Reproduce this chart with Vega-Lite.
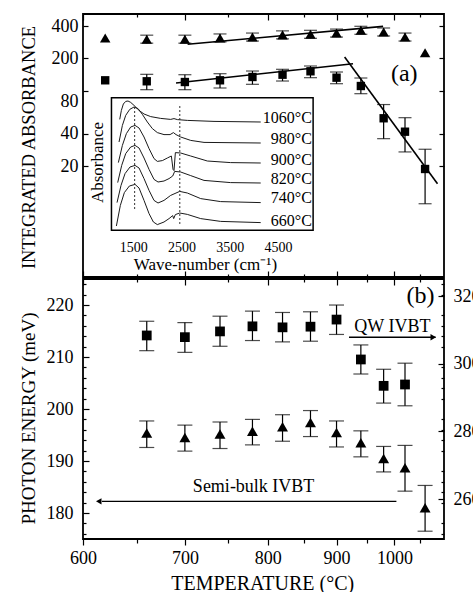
{
"$schema": "https://vega.github.io/schema/vega-lite/v6.json",
"background": "white",
"padding": {"left": 18, "top": 12, "right": 0, "bottom": 0},
"spacing": -11,
"config": {
 "view": {"stroke": "black", "strokeWidth": 1.8},
 "axis": {"domain": false, "grid": false, "labelFont": "Liberation Serif", "labelFontSize": 18, "labelColor": "black", "titleFont": "Liberation Serif", "titleFontSize": 19, "titleFontWeight": "normal", "titleColor": "black", "tickColor": "black", "tickWidth": 1.2, "labelFlush": false, "labelOverlap": false},
 "text": {"font": "Liberation Serif", "color": "black"}
},
"datasets": {
 "a_tri": [
  {"T":620,"TK":893,"v":310},
  {"T":660,"TK":933,"v":302,"lo":277.3,"hi":328.9},
  {"T":700,"TK":973,"v":302,"lo":277.3,"hi":328.9},
  {"T":740,"TK":1013,"v":310,"lo":284.7,"hi":337.6},
  {"T":780,"TK":1053,"v":316,"lo":290.2,"hi":344.1},
  {"T":820,"TK":1093,"v":331,"lo":304.0,"hi":360.5},
  {"T":860,"TK":1133,"v":335,"lo":307.6,"hi":364.8},
  {"T":900,"TK":1173,"v":344,"lo":315.9,"hi":374.6},
  {"T":940,"TK":1213,"v":365,"lo":335.2,"hi":397.5},
  {"T":980,"TK":1253,"v":352,"lo":323.2,"hi":383.3},
  {"T":1020,"TK":1293,"v":316,"lo":290.2,"hi":344.1},
  {"T":1060,"TK":1333,"v":226}
 ],
 "a_sq": [
  {"T":620,"TK":893,"v":125.5},
  {"T":660,"TK":933,"v":122.9,"lo":102.7,"hi":142.6},
  {"T":700,"TK":973,"v":121.0,"lo":102.7,"hi":141.4},
  {"T":740,"TK":1013,"v":125.5,"lo":106.5,"hi":144.5},
  {"T":780,"TK":1053,"v":134.7,"lo":115.2,"hi":153.0},
  {"T":820,"TK":1093,"v":141.4,"lo":123.6,"hi":158.7},
  {"T":860,"TK":1133,"v":152.1,"lo":132.7,"hi":170.3},
  {"T":900,"TK":1173,"v":132.7,"lo":116.7,"hi":149.8},
  {"T":940,"TK":1213,"v":111.1,"lo":94.3,"hi":131.8},
  {"T":980,"TK":1253,"v":55.8,"lo":36.1,"hi":74.8},
  {"T":1020,"TK":1293,"v":41.9,"lo":27.2,"hi":56.5},
  {"T":1060,"TK":1333,"v":18.9,"lo":9.0,"hi":28.8}
 ],
 "a_fit": [
  {"fit":"tri","TK":976,"v":270.6},{"fit":"tri","TK":1252,"v":397},
  {"fit":"sq1","TK":963.4,"v":118.5},{"fit":"sq1","TK":1199.8,"v":178.9},
  {"fit":"sq2","TK":1186,"v":206.4},{"fit":"sq2","TK":1359,"v":13.8}
 ],
 "b_tri": [
  {"T":660,"TK":933,"v":195.4,"lo":192.6,"hi":197.7},
  {"T":700,"TK":973,"v":194.5,"lo":191.9,"hi":196.9},
  {"T":740,"TK":1013,"v":195.2,"lo":192.4,"hi":197.5},
  {"T":780,"TK":1053,"v":195.7,"lo":193.1,"hi":198.0},
  {"T":820,"TK":1093,"v":196.6,"lo":193.8,"hi":198.9},
  {"T":860,"TK":1133,"v":197.4,"lo":194.7,"hi":199.7},
  {"T":900,"TK":1173,"v":195.5,"lo":192.7,"hi":197.7},
  {"T":940,"TK":1213,"v":193.5,"lo":190.8,"hi":195.8},
  {"T":980,"TK":1253,"v":190.5,"lo":187.9,"hi":192.8},
  {"T":1020,"TK":1293,"v":188.7,"lo":184.2,"hi":193.0},
  {"T":1060,"TK":1333,"v":181.0,"lo":176.5,"hi":185.3}
 ],
 "b_sq": [
  {"T":660,"TK":933,"v":308.4,"lo":303.9,"hi":312.6},
  {"T":700,"TK":973,"v":307.9,"lo":303.4,"hi":312.2},
  {"T":740,"TK":1013,"v":309.6,"lo":305.2,"hi":314.1},
  {"T":780,"TK":1053,"v":311.1,"lo":306.9,"hi":315.6},
  {"T":820,"TK":1093,"v":310.8,"lo":306.5,"hi":315.2},
  {"T":860,"TK":1133,"v":311.0,"lo":306.7,"hi":315.4},
  {"T":900,"TK":1173,"v":313.1,"lo":308.7,"hi":317.4},
  {"T":940,"TK":1213,"v":301.3,"lo":297.0,"hi":305.6},
  {"T":980,"TK":1253,"v":293.5,"lo":288.4,"hi":298.4},
  {"T":1020,"TK":1293,"v":293.9,"lo":287.6,"hi":300.2}
 ],
 "spectra": [
  {"s":"1060°C","wn":1221,"a":6.13},{"s":"1060°C","wn":1255,"a":6.58},{"s":"1060°C","wn":1296,"a":6.9},{"s":"1060°C","wn":1345,"a":7.03},{"s":"1060°C","wn":1393,"a":7.05},{"s":"1060°C","wn":1448,"a":6.98},{"s":"1060°C","wn":1517,"a":6.83},{"s":"1060°C","wn":1621,"a":6.58},{"s":"1060°C","wn":1724,"a":6.4},{"s":"1060°C","wn":1862,"a":6.27},{"s":"1060°C","wn":2069,"a":6.18},{"s":"1060°C","wn":2276,"a":6.13},{"s":"1060°C","wn":2345,"a":6.17},{"s":"1060°C","wn":2414,"a":6.12},{"s":"1060°C","wn":2621,"a":6.08},{"s":"1060°C","wn":3173,"a":6.03},{"s":"1060°C","wn":4140,"a":6.0},
  {"s":"980°C","wn":1207,"a":5.0},{"s":"980°C","wn":1276,"a":5.83},{"s":"980°C","wn":1345,"a":6.33},{"s":"980°C","wn":1428,"a":6.63},{"s":"980°C","wn":1517,"a":6.75},{"s":"980°C","wn":1600,"a":6.67},{"s":"980°C","wn":1690,"a":6.38},{"s":"980°C","wn":1793,"a":6.0},{"s":"980°C","wn":1897,"a":5.67},{"s":"980°C","wn":2000,"a":5.47},{"s":"980°C","wn":2138,"a":5.37},{"s":"980°C","wn":2263,"a":5.37},{"s":"980°C","wn":2332,"a":5.47},{"s":"980°C","wn":2387,"a":5.37},{"s":"980°C","wn":2483,"a":5.25},{"s":"980°C","wn":2690,"a":5.08},{"s":"980°C","wn":2966,"a":4.98},{"s":"980°C","wn":4140,"a":4.95},
  {"s":"900°C","wn":1193,"a":3.97},{"s":"900°C","wn":1276,"a":4.83},{"s":"900°C","wn":1359,"a":5.42},{"s":"900°C","wn":1448,"a":5.75},{"s":"900°C","wn":1538,"a":5.83},{"s":"900°C","wn":1621,"a":5.7},{"s":"900°C","wn":1724,"a":5.25},{"s":"900°C","wn":1828,"a":4.67},{"s":"900°C","wn":1931,"a":4.17},{"s":"900°C","wn":2000,"a":4.03},{"s":"900°C","wn":2104,"a":4.07},{"s":"900°C","wn":2207,"a":4.2},{"s":"900°C","wn":2290,"a":4.3},{"s":"900°C","wn":2325,"a":3.63},{"s":"900°C","wn":2345,"a":3.57},{"s":"900°C","wn":2373,"a":4.47},{"s":"900°C","wn":2483,"a":4.45},{"s":"900°C","wn":2690,"a":4.3},{"s":"900°C","wn":3035,"a":4.05},{"s":"900°C","wn":3518,"a":3.97},{"s":"900°C","wn":4140,"a":3.95},
  {"s":"820°C","wn":1179,"a":2.97},{"s":"820°C","wn":1262,"a":3.83},{"s":"820°C","wn":1345,"a":4.42},{"s":"820°C","wn":1448,"a":4.75},{"s":"820°C","wn":1538,"a":4.83},{"s":"820°C","wn":1621,"a":4.7},{"s":"820°C","wn":1724,"a":4.2},{"s":"820°C","wn":1828,"a":3.63},{"s":"820°C","wn":1931,"a":3.13},{"s":"820°C","wn":2014,"a":3.0},{"s":"820°C","wn":2138,"a":3.05},{"s":"820°C","wn":2242,"a":3.17},{"s":"820°C","wn":2318,"a":3.3},{"s":"820°C","wn":2359,"a":3.53},{"s":"820°C","wn":2483,"a":3.5},{"s":"820°C","wn":2690,"a":3.32},{"s":"820°C","wn":2966,"a":3.08},{"s":"820°C","wn":3518,"a":2.97},{"s":"820°C","wn":4140,"a":2.95},
  {"s":"740°C","wn":1165,"a":1.97},{"s":"740°C","wn":1248,"a":2.83},{"s":"740°C","wn":1331,"a":3.42},{"s":"740°C","wn":1434,"a":3.75},{"s":"740°C","wn":1538,"a":3.83},{"s":"740°C","wn":1621,"a":3.7},{"s":"740°C","wn":1724,"a":3.17},{"s":"740°C","wn":1828,"a":2.58},{"s":"740°C","wn":1931,"a":2.08},{"s":"740°C","wn":2014,"a":1.95},{"s":"740°C","wn":2138,"a":2.08},{"s":"740°C","wn":2276,"a":2.33},{"s":"740°C","wn":2463,"a":2.53},{"s":"740°C","wn":2621,"a":2.45},{"s":"740°C","wn":2897,"a":2.17},{"s":"740°C","wn":3311,"a":2.02},{"s":"740°C","wn":4140,"a":1.97},
  {"s":"660°C","wn":1152,"a":0.8},{"s":"660°C","wn":1234,"a":1.83},{"s":"660°C","wn":1317,"a":2.47},{"s":"660°C","wn":1421,"a":2.8},{"s":"660°C","wn":1538,"a":2.88},{"s":"660°C","wn":1621,"a":2.7},{"s":"660°C","wn":1724,"a":2.08},{"s":"660°C","wn":1828,"a":1.42},{"s":"660°C","wn":1918,"a":1.0},{"s":"660°C","wn":2000,"a":0.87},{"s":"660°C","wn":2138,"a":1.0},{"s":"660°C","wn":2242,"a":1.17},{"s":"660°C","wn":2318,"a":1.32},{"s":"660°C","wn":2338,"a":1.17},{"s":"660°C","wn":2373,"a":1.37},{"s":"660°C","wn":2463,"a":1.45},{"s":"660°C","wn":2621,"a":1.38},{"s":"660°C","wn":2897,"a":1.17},{"s":"660°C","wn":3311,"a":1.03},{"s":"660°C","wn":4140,"a":0.97}
 ],
 "spec_labels": [
  {"s":"1060°C","wn":5200,"a":6.22},{"s":"980°C","wn":5200,"a":5.17},{"s":"900°C","wn":5200,"a":4.12},
  {"s":"820°C","wn":5200,"a":3.16},{"s":"740°C","wn":5200,"a":2.2},{"s":"660°C","wn":5200,"a":1.06}
 ]
},
"vconcat": [
 {
  "width": 361, "height": 263,
  "resolve": {"scale": {"x": "independent", "y": "independent"}},
  "layer": [
   {
    "data": {"name": "a_tri"},
    "transform": [{"filter": "isValid(datum.lo)"}],
    "mark": {"type": "rule", "strokeWidth": 1.2, "color": "black"},
    "encoding": {
     "x": {"field": "TK", "type": "quantitative", "scale": {"type": "pow", "exponent": -1, "domain": [873, 1373], "nice": false, "zero": false},
       "axis": {"orient": "bottom", "values": [873, 973, 1073, 1173, 1273], "labels": false, "tickSize": -6, "title": null}},
     "y": {"field": "lo", "type": "quantitative", "scale": {"type": "log", "domain": [1.884, 516.8], "nice": false},
       "axis": {"orient": "left", "values": [400, 200, 80, 40, 20], "ticks": false, "labelPadding": 5, "title": "INTEGRATED ABSORBANCE", "titleFontSize": 18.5, "titleX": -54.3, "titleY": 133, "titleAngle": 270, "titleBaseline": "middle", "titleAlign": "center"}},
     "y2": {"field": "hi"}
    }
   },
   {
    "data": {"name": "a_tri"},
    "transform": [{"filter": "isValid(datum.lo)"}],
    "mark": {"type": "tick", "orient": "horizontal", "size": 13, "thickness": 1.2, "color": "black"},
    "encoding": {
     "x": {"field": "TK", "type": "quantitative", "scale": {"type": "pow", "exponent": -1, "domain": [873, 1373], "nice": false, "zero": false},
       "axis": {"orient": "bottom", "values": [923, 1023, 1123, 1223, 1323], "labels": false, "tickSize": -3, "title": null}},
     "y": {"field": "lo", "type": "quantitative", "scale": {"type": "log", "domain": [1.884, 516.8], "nice": false},
       "axis": {"orient": "left", "values": [400, 200, 100, 40, 20], "labels": false, "tickSize": -5, "title": null}}
    }
   },
   {
    "data": {"name": "a_tri"},
    "transform": [{"filter": "isValid(datum.hi)"}],
    "mark": {"type": "tick", "orient": "horizontal", "size": 13, "thickness": 1.2, "color": "black"},
    "encoding": {
     "x": {"field": "TK", "type": "quantitative", "scale": {"type": "pow", "exponent": -1, "domain": [873, 1373], "nice": false, "zero": false},
       "axis": {"orient": "top", "values": [873, 973, 1073, 1173, 1273], "labels": false, "tickSize": -6, "title": null}},
     "y": {"field": "hi", "type": "quantitative", "scale": {"type": "log", "domain": [1.884, 516.8], "nice": false},
       "axis": {"orient": "right", "values": [400, 200, 100, 40, 20], "labels": false, "tickSize": -5, "title": null}}
    }
   },
   {
    "data": {"name": "a_tri"},
    "mark": {"type": "point", "shape": "triangle-up", "filled": true, "size": 110, "color": "black", "opacity": 1},
    "encoding": {
     "x": {"field": "TK", "type": "quantitative", "scale": {"type": "pow", "exponent": -1, "domain": [873, 1373], "nice": false, "zero": false},
       "axis": {"orient": "top", "values": [923, 1023, 1123, 1223, 1323], "labels": false, "tickSize": -3, "title": null}},
     "y": {"field": "v", "type": "quantitative", "scale": {"type": "log", "domain": [1.884, 516.8], "nice": false}, "axis": null}
    }
   },
   {
    "data": {"name": "a_sq"},
    "transform": [{"filter": "isValid(datum.lo)"}],
    "mark": {"type": "rule", "strokeWidth": 1.2, "color": "black"},
    "encoding": {
     "x": {"field": "TK", "type": "quantitative", "scale": {"type": "pow", "exponent": -1, "domain": [873, 1373], "nice": false, "zero": false}, "axis": null},
     "y": {"field": "lo", "type": "quantitative", "scale": {"type": "log", "domain": [1.884, 516.8], "nice": false}, "axis": null},
     "y2": {"field": "hi"}
    }
   },
   {
    "data": {"name": "a_sq"},
    "transform": [{"filter": "isValid(datum.lo)"}],
    "mark": {"type": "tick", "orient": "horizontal", "size": 13, "thickness": 1.2, "color": "black"},
    "encoding": {
     "x": {"field": "TK", "type": "quantitative", "scale": {"type": "pow", "exponent": -1, "domain": [873, 1373], "nice": false, "zero": false}, "axis": null},
     "y": {"field": "lo", "type": "quantitative", "scale": {"type": "log", "domain": [1.884, 516.8], "nice": false}, "axis": null}
    }
   },
   {
    "data": {"name": "a_sq"},
    "transform": [{"filter": "isValid(datum.hi)"}],
    "mark": {"type": "tick", "orient": "horizontal", "size": 13, "thickness": 1.2, "color": "black"},
    "encoding": {
     "x": {"field": "TK", "type": "quantitative", "scale": {"type": "pow", "exponent": -1, "domain": [873, 1373], "nice": false, "zero": false}, "axis": null},
     "y": {"field": "hi", "type": "quantitative", "scale": {"type": "log", "domain": [1.884, 516.8], "nice": false}, "axis": null}
    }
   },
   {
    "data": {"name": "a_sq"},
    "mark": {"type": "point", "shape": "square", "filled": true, "size": 70, "color": "black", "opacity": 1},
    "encoding": {
     "x": {"field": "TK", "type": "quantitative", "scale": {"type": "pow", "exponent": -1, "domain": [873, 1373], "nice": false, "zero": false}, "axis": null},
     "y": {"field": "v", "type": "quantitative", "scale": {"type": "log", "domain": [1.884, 516.8], "nice": false}, "axis": null}
    }
   },
   {
    "data": {"name": "a_fit"},
    "mark": {"type": "line", "strokeWidth": 1.6, "color": "black"},
    "encoding": {
     "x": {"field": "TK", "type": "quantitative", "scale": {"type": "pow", "exponent": -1, "domain": [873, 1373], "nice": false, "zero": false}, "axis": null},
     "y": {"field": "v", "type": "quantitative", "scale": {"type": "log", "domain": [1.884, 516.8], "nice": false}, "axis": null},
     "detail": {"field": "fit", "type": "nominal"}
    }
   },
   {
    "data": {"values": [{"label": "(a)", "TK": 1291.6, "v": 143.6}]},
    "mark": {"type": "text", "fontSize": 24, "align": "center", "baseline": "middle"},
    "encoding": {
     "x": {"field": "TK", "type": "quantitative", "scale": {"type": "pow", "exponent": -1, "domain": [873, 1373], "nice": false, "zero": false}, "axis": null},
     "y": {"field": "v", "type": "quantitative", "scale": {"type": "log", "domain": [1.884, 516.8], "nice": false}, "axis": null},
     "text": {"field": "label"}
    }
   },
   {
    "data": {"values": [{"wn0": 1050, "wn1": 5225, "a0": 0.585, "a1": 7.215}]},
    "mark": {"type": "rect", "fill": "white", "stroke": "black", "strokeWidth": 1.5},
    "encoding": {
     "x": {"field": "wn0", "type": "quantitative", "scale": {"domain": [460.7, 7934.8], "nice": false, "zero": false},
       "axis": {"orient": "bottom", "offset": -46.7, "values": [1500, 2500, 3500, 4500], "format": "d", "ticks": false, "labelPadding": 10, "labelFontSize": 14, "title": "Wave-number (cm⁻¹)", "titleFontSize": 17, "titleX": 121.9, "titleY": 34.5, "titleBaseline": "middle", "titleAlign": "center"}},
     "x2": {"field": "wn1"},
     "y": {"field": "a0", "type": "quantitative", "scale": {"domain": [-1.75, 11.4], "nice": false, "zero": false},
       "axis": {"orient": "left", "offset": -28.4, "values": [1, 2, 3, 4, 5, 6, 7], "labels": false, "tickSize": -4, "title": "Absorbance", "titleFontSize": 17, "titleX": -14.3, "titleY": 148, "titleAngle": 270, "titleBaseline": "middle", "titleAlign": "center"}},
     "y2": {"field": "a1"}
    }
   },
   {
    "data": {"name": "spectra"},
    "mark": {"type": "line", "strokeWidth": 1, "color": "#1a1a1a"},
    "encoding": {
     "x": {"field": "wn", "type": "quantitative", "scale": {"domain": [460.7, 7934.8], "nice": false, "zero": false},
       "axis": {"orient": "bottom", "offset": -46.7, "values": [1500, 2500, 3500, 4500], "labels": false, "tickSize": -5, "title": null}},
     "y": {"field": "a", "type": "quantitative", "scale": {"domain": [-1.75, 11.4], "nice": false, "zero": false}, "axis": null},
     "detail": {"field": "s", "type": "nominal"}
    }
   },
   {
    "data": {"values": [{"wn": 1530, "a0": 1.65, "a1": 6.85}, {"wn": 2465, "a0": 0.9, "a1": 6.9}]},
    "mark": {"type": "rule", "strokeWidth": 1, "strokeDash": [2, 2], "color": "#333"},
    "encoding": {
     "x": {"field": "wn", "type": "quantitative", "scale": {"domain": [460.7, 7934.8], "nice": false, "zero": false},
       "axis": {"orient": "bottom", "offset": -46.7, "values": [1250, 1750, 2000, 2250, 2750, 3000, 3250, 3750, 4000, 4250, 4750, 5000], "labels": false, "tickSize": -3, "title": null}},
     "y": {"field": "a0", "type": "quantitative", "scale": {"domain": [-1.75, 11.4], "nice": false, "zero": false}, "axis": null},
     "y2": {"field": "a1"}
    }
   },
   {
    "data": {"name": "spec_labels"},
    "mark": {"type": "text", "fontSize": 16, "align": "right", "baseline": "middle"},
    "encoding": {
     "x": {"field": "wn", "type": "quantitative", "scale": {"domain": [460.7, 7934.8], "nice": false, "zero": false}, "axis": null},
     "y": {"field": "a", "type": "quantitative", "scale": {"domain": [-1.75, 11.4], "nice": false, "zero": false}, "axis": null},
     "text": {"field": "s"}
    }
   }
  ]
 },
 {
  "width": 361, "height": 260,
  "resolve": {"scale": {"x": "independent", "y": "independent"}},
  "layer": [
   {
    "data": {"name": "b_tri"},
    "mark": {"type": "rule", "strokeWidth": 1.2, "color": "black"},
    "encoding": {
     "x": {"field": "TK", "type": "quantitative", "scale": {"type": "pow", "exponent": -1, "domain": [873, 1373], "nice": false, "zero": false},
       "axis": {"orient": "bottom", "values": [873, 973, 1073, 1173, 1273], "ticks": false, "labelPadding": 10, "labelExpr": "datum.value - 273", "title": "TEMPERATURE (°C)", "titleFontSize": 20, "titleX": 179.2, "titleY": 50, "titleBaseline": "alphabetic", "titleAlign": "center"}},
     "y": {"field": "lo", "type": "quantitative", "scale": {"domain": [175, 225], "nice": false, "zero": false},
       "axis": {"orient": "left", "values": [180, 190, 200, 210, 220], "ticks": false, "labelPadding": 10, "title": "PHOTON ENERGY (meV)", "titleX": -54.3, "titleY": 139, "titleAngle": 270, "titleBaseline": "middle", "titleAlign": "center"}},
     "y2": {"field": "hi"}
    }
   },
   {
    "data": {"name": "b_tri"},
    "mark": {"type": "tick", "orient": "horizontal", "size": 15, "thickness": 1.2, "color": "black"},
    "encoding": {
     "x": {"field": "TK", "type": "quantitative", "scale": {"type": "pow", "exponent": -1, "domain": [873, 1373], "nice": false, "zero": false},
       "axis": {"orient": "bottom", "values": [873, 973, 1073, 1173, 1273], "labels": false, "tickSize": 6, "title": null}},
     "y": {"field": "lo", "type": "quantitative", "scale": {"domain": [175, 225], "nice": false, "zero": false},
       "axis": {"orient": "left", "values": [180, 190, 200, 210, 220], "labels": false, "tickSize": -6, "title": null}}
    }
   },
   {
    "data": {"name": "b_tri"},
    "mark": {"type": "tick", "orient": "horizontal", "size": 15, "thickness": 1.2, "color": "black"},
    "encoding": {
     "x": {"field": "TK", "type": "quantitative", "scale": {"type": "pow", "exponent": -1, "domain": [873, 1373], "nice": false, "zero": false},
       "axis": {"orient": "bottom", "values": [923, 1023, 1123, 1223, 1323], "labels": false, "tickSize": 4, "title": null}},
     "y": {"field": "hi", "type": "quantitative", "scale": {"domain": [175, 225], "nice": false, "zero": false},
       "axis": {"orient": "left", "values": [176, 178, 182, 184, 186, 188, 192, 194, 196, 198, 202, 204, 206, 208, 212, 214, 216, 218, 222, 224], "labels": false, "tickSize": -3, "title": null}}
    }
   },
   {
    "data": {"name": "b_tri"},
    "mark": {"type": "point", "shape": "triangle-up", "filled": true, "size": 120, "color": "black", "opacity": 1},
    "encoding": {
     "x": {"field": "TK", "type": "quantitative", "scale": {"type": "pow", "exponent": -1, "domain": [873, 1373], "nice": false, "zero": false},
       "axis": {"orient": "top", "values": [873, 973, 1073, 1173, 1273], "labels": false, "tickSize": -6, "title": null}},
     "y": {"field": "v", "type": "quantitative", "scale": {"domain": [175, 225], "nice": false, "zero": false},
       "axis": {"orient": "right", "values": [176, 178, 182, 184, 186, 188, 192, 194, 196, 198, 202, 204, 206, 208, 212, 214, 216, 218, 222, 224], "labels": false, "tickSize": -3, "title": null}}
    }
   },
   {
    "data": {"name": "b_sq"},
    "mark": {"type": "rule", "strokeWidth": 1.2, "color": "black"},
    "encoding": {
     "x": {"field": "TK", "type": "quantitative", "scale": {"type": "pow", "exponent": -1, "domain": [873, 1373], "nice": false, "zero": false},
       "axis": {"orient": "top", "values": [923, 1023, 1123, 1223, 1323], "labels": false, "tickSize": -3, "title": null}},
     "y": {"field": "lo", "type": "quantitative", "scale": {"domain": [248.2, 325.1], "nice": false, "zero": false},
       "axis": {"orient": "right", "values": [260, 280, 300, 320], "ticks": false, "labelPadding": 9, "title": null}},
     "y2": {"field": "hi"}
    }
   },
   {
    "data": {"name": "b_sq"},
    "mark": {"type": "tick", "orient": "horizontal", "size": 15, "thickness": 1.2, "color": "black"},
    "encoding": {
     "x": {"field": "TK", "type": "quantitative", "scale": {"type": "pow", "exponent": -1, "domain": [873, 1373], "nice": false, "zero": false}, "axis": null},
     "y": {"field": "lo", "type": "quantitative", "scale": {"domain": [248.2, 325.1], "nice": false, "zero": false},
       "axis": {"orient": "right", "values": [260, 280, 300, 320], "labels": false, "tickSize": -6, "title": null}}
    }
   },
   {
    "data": {"name": "b_sq"},
    "mark": {"type": "tick", "orient": "horizontal", "size": 15, "thickness": 1.2, "color": "black"},
    "encoding": {
     "x": {"field": "TK", "type": "quantitative", "scale": {"type": "pow", "exponent": -1, "domain": [873, 1373], "nice": false, "zero": false}, "axis": null},
     "y": {"field": "hi", "type": "quantitative", "scale": {"domain": [248.2, 325.1], "nice": false, "zero": false}, "axis": null}
    }
   },
   {
    "data": {"name": "b_sq"},
    "mark": {"type": "point", "shape": "square", "filled": true, "size": 95, "color": "black", "opacity": 1},
    "encoding": {
     "x": {"field": "TK", "type": "quantitative", "scale": {"type": "pow", "exponent": -1, "domain": [873, 1373], "nice": false, "zero": false}, "axis": null},
     "y": {"field": "v", "type": "quantitative", "scale": {"domain": [248.2, 325.1], "nice": false, "zero": false}, "axis": null}
    }
   },
   {
    "data": {"values": [{"arrow": "QW IVBT", "TK": 1193.2, "TK2": 1355, "y": 213.8}, {"arrow": "Semi-bulk IVBT", "TK": 890, "TK2": 1276.6, "y": 182.25}]},
    "mark": {"type": "rule", "strokeWidth": 1.3, "color": "black"},
    "encoding": {
     "x": {"field": "TK", "type": "quantitative", "scale": {"type": "pow", "exponent": -1, "domain": [873, 1373], "nice": false, "zero": false}, "axis": null},
     "x2": {"field": "TK2"},
     "y": {"field": "y", "type": "quantitative", "scale": {"domain": [175, 225], "nice": false, "zero": false}, "axis": null}
    }
   },
   {
    "data": {"values": [{"dir": "right", "TK": 1350, "y": 213.8}, {"dir": "left", "TK": 887.1, "y": 182.25}]},
    "mark": {"type": "point", "filled": true, "size": 40, "color": "black", "opacity": 1},
    "encoding": {
     "x": {"field": "TK", "type": "quantitative", "scale": {"type": "pow", "exponent": -1, "domain": [873, 1373], "nice": false, "zero": false}, "axis": null},
     "y": {"field": "y", "type": "quantitative", "scale": {"domain": [175, 225], "nice": false, "zero": false}, "axis": null},
     "shape": {"field": "dir", "type": "nominal", "scale": {"domain": ["right", "left"], "range": ["triangle-right", "triangle-left"]}, "legend": null}
    }
   },
   {
    "data": {"values": [{"label": "QW IVBT", "TK": 1269.1, "y": 215.7}, {"label": "Semi-bulk IVBT", "TK": 1054.5, "y": 184.94}]},
    "mark": {"type": "text", "fontSize": 18, "align": "center", "baseline": "middle"},
    "encoding": {
     "x": {"field": "TK", "type": "quantitative", "scale": {"type": "pow", "exponent": -1, "domain": [873, 1373], "nice": false, "zero": false}, "axis": null},
     "y": {"field": "y", "type": "quantitative", "scale": {"domain": [175, 225], "nice": false, "zero": false}, "axis": null},
     "text": {"field": "label"}
    }
   },
   {
    "data": {"values": [{"label": "(b)", "TK": 1323.6, "y": 221.8}]},
    "mark": {"type": "text", "fontSize": 24, "align": "center", "baseline": "middle"},
    "encoding": {
     "x": {"field": "TK", "type": "quantitative", "scale": {"type": "pow", "exponent": -1, "domain": [873, 1373], "nice": false, "zero": false}, "axis": null},
     "y": {"field": "y", "type": "quantitative", "scale": {"domain": [175, 225], "nice": false, "zero": false}, "axis": null},
     "text": {"field": "label"}
    }
   }
  ]
 }
]
}
